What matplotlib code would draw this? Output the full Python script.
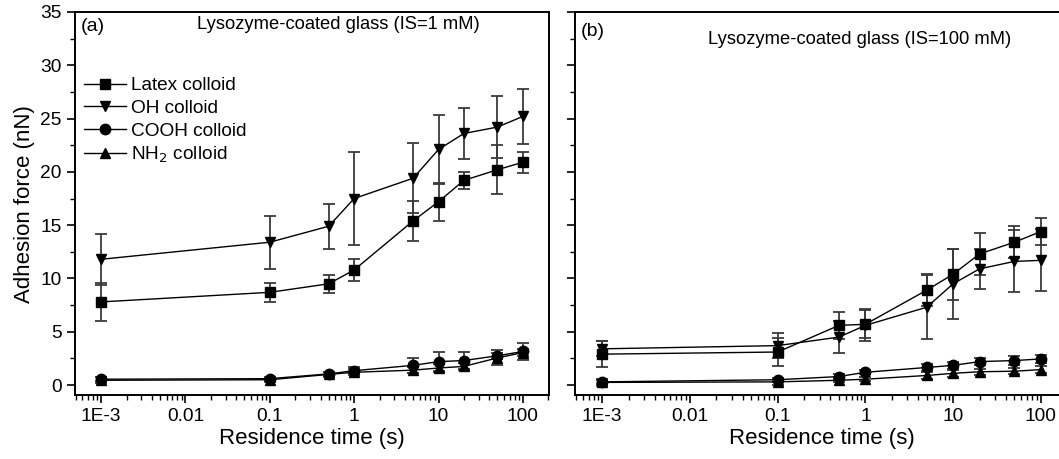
import numpy as np
import matplotlib
matplotlib.use('Agg')
import matplotlib.pyplot as plt
from matplotlib.ticker import LogLocator, NullFormatter, MultipleLocator

plt.rcParams['font.family'] = ['Liberation Sans', 'DejaVu Sans']

# residence time (s)
time = [0.001, 0.1, 0.5, 1, 5, 10, 20, 50, 100]
tick_vals = [0.001, 0.01, 0.1, 1, 10, 100]
tick_labels = ['1E-3', '0.01', '0.1', '1', '10', '100']

# (a) IS = 1 mM
latex_a = [7.8, 8.7, 9.5, 10.8, 15.4, 17.2, 19.2, 20.2, 20.9]
latex_a_err = [1.8, 0.9, 0.85, 1.0, 1.9, 1.8, 0.8, 2.3, 1.0]
oh_a = [11.8, 13.4, 14.9, 17.5, 19.4, 22.1, 23.6, 24.2, 25.2]
oh_a_err = [2.4, 2.5, 2.1, 4.4, 3.3, 3.2, 2.4, 2.9, 2.6]
cooh_a = [0.55, 0.6, 1.05, 1.35, 1.85, 2.2, 2.3, 2.75, 3.15]
cooh_a_err = [0.2, 0.2, 0.2, 0.3, 0.7, 0.9, 0.8, 0.3, 0.8]
nh2_a = [0.45, 0.5, 1.0, 1.2, 1.4, 1.6, 1.75, 2.55, 3.05]
nh2_a_err = [0.3, 0.2, 0.2, 0.3, 0.3, 0.4, 0.3, 0.7, 0.3]

# (b) IS = 100 mM
latex_b = [2.9, 3.1, 5.6, 5.7, 8.9, 10.4, 12.3, 13.4, 14.4]
latex_b_err = [1.2, 1.3, 1.3, 1.3, 1.5, 2.4, 2.0, 1.5, 1.3]
oh_b = [3.4, 3.7, 4.5, 5.6, 7.3, 9.5, 10.9, 11.6, 11.7]
oh_b_err = [0.7, 1.2, 1.5, 1.5, 3.0, 3.3, 1.9, 2.9, 2.9]
cooh_b = [0.3, 0.5, 0.8, 1.2, 1.65, 1.85, 2.2, 2.3, 2.45]
cooh_b_err = [0.2, 0.2, 0.2, 0.2, 0.3, 0.3, 0.35, 0.4, 0.4]
nh2_b = [0.25, 0.3, 0.45, 0.55, 0.9, 1.1, 1.25, 1.3, 1.45]
nh2_b_err = [0.3, 0.3, 0.2, 0.2, 0.3, 0.3, 0.3, 0.3, 0.3]

labels = ['Latex colloid', 'OH colloid', 'COOH colloid', 'NH$_2$ colloid']
markers = ['s', 'v', 'o', '^']


def draw_panel(ax, series, letter, title, letter_y, title_x, title_y):
    for (y, err), mk, lab in zip(series, markers, labels):
        ax.errorbar(time, y, yerr=err, fmt='none', ecolor='#3a3a3a',
                    elinewidth=1.3, capsize=4, capthick=1.3, zorder=2)
        ax.plot(time, y, color='black', lw=1.0, marker=mk, ms=7.5,
                mfc='black', mec='black', label=lab, zorder=3)
    ax.set_xscale('log')
    ax.set_xlim(4.9e-4, 204)
    ax.set_ylim(-0.95, 35)
    ax.set_xticks(tick_vals)
    ax.set_xticklabels(tick_labels)
    ax.xaxis.set_minor_locator(LogLocator(base=10, subs=np.arange(2, 10), numticks=20))
    ax.xaxis.set_minor_formatter(NullFormatter())
    ax.yaxis.set_major_locator(MultipleLocator(5))
    ax.yaxis.set_minor_locator(MultipleLocator(2.5))
    ax.tick_params(which='major', direction='out', length=6, width=1.2, labelsize=13.8)
    ax.tick_params(which='minor', direction='out', length=3.5, width=1.0)
    ax.tick_params(top=False, right=False, which='both')
    for s in ax.spines.values():
        s.set_linewidth(1.4)
    ax.set_xlabel('Residence time (s)', fontsize=16, labelpad=2)
    ax.text(0.012, letter_y, letter, transform=ax.transAxes, ha='left', va='center', fontsize=14)
    ax.text(title_x, title_y, title, transform=ax.transAxes, ha='center', va='center', fontsize=13.2)


fig = plt.figure(figsize=(10.59, 4.59), dpi=100)
ax1 = fig.add_axes([0.0708, 0.139, 0.4476, 0.835])
ax2 = fig.add_axes([0.543, 0.139, 0.4655, 0.835])

draw_panel(ax1, [(latex_a, latex_a_err), (oh_a, oh_a_err), (cooh_a, cooh_a_err), (nh2_a, nh2_a_err)],
           '(a)', 'Lysozyme-coated glass (IS=1 mM)', 0.963, 0.555, 0.968)
draw_panel(ax2, [(latex_b, latex_b_err), (oh_b, oh_b_err), (cooh_b, cooh_b_err), (nh2_b, nh2_b_err)],
           '(b)', 'Lysozyme-coated glass (IS=100 mM)', 0.95, 0.578, 0.927)

ax1.set_ylabel('Adhesion force (nN)', fontsize=16, labelpad=4)
ax2.set_yticklabels([])

ax1.legend(loc='upper left', bbox_to_anchor=(-0.005, 0.86), frameon=False, fontsize=13.7,
           handlelength=2.2, handletextpad=0.25, labelspacing=0.28, borderaxespad=0.2)

fig.savefig('out.png', dpi=100)
